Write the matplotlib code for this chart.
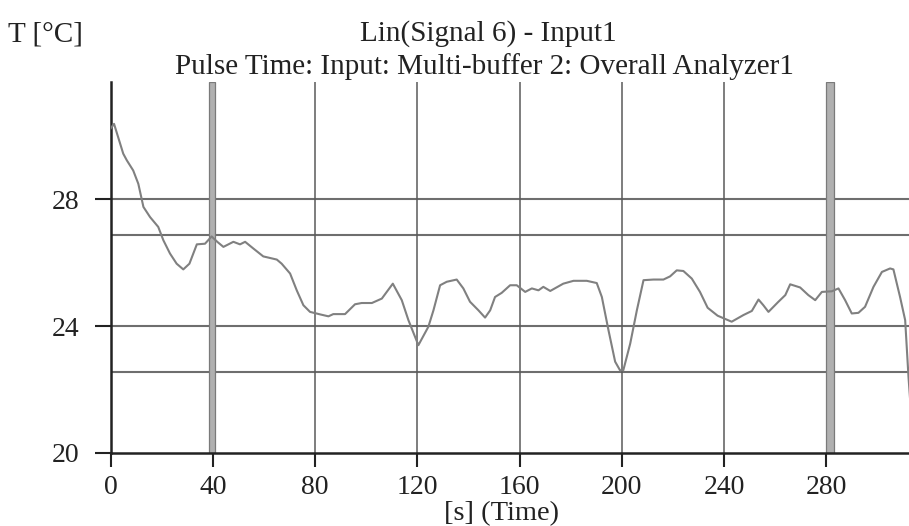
import matplotlib
matplotlib.use("Agg")
import matplotlib.pyplot as plt
import numpy as np

# data
time_s = [0, 1.3, 4.9, 6.3, 8.8, 10.8, 12.8, 15.4, 18.6, 20.6, 23.2, 25.8, 28.4,
          30.8, 33.7, 36.9, 39.5, 41.7, 44.1, 48.0, 50.6, 52.6, 55.8, 59.7, 65.0,
          66.9, 70.2, 72.8, 75.4, 78.0, 82.0, 85.2, 87.1, 91.7, 95.6, 98.2, 102.2,
          106.1, 110.4, 113.9, 116.5, 120.4, 124.3, 126.3, 128.9, 131.5, 135.4,
          138.0, 140.6, 143.9, 146.5, 148.5, 150.4, 153.0, 156.3, 158.9, 162.2,
          164.8, 167.4, 169.3, 172.0, 177.1, 181.1, 186.3, 190.2, 192.2, 194.8,
          197.4, 199.3, 200.6, 203.3, 205.9, 208.5, 212.4, 216.3, 218.9, 221.5,
          224.1, 227.4, 230.6, 233.6, 237.5, 243.0, 247.6, 250.9, 253.5, 255.4,
          257.4, 261.3, 264.0, 265.9, 269.8, 273.0, 275.7, 278.3, 282.2, 284.8,
          287.4, 290.0, 292.6, 295.2, 298.5, 301.8, 305.0, 306.3, 308.9, 310.9,
          312.2, 313.0]
temp_c = [30.24, 30.38, 29.44, 29.23, 28.91, 28.49, 27.76, 27.44, 27.13, 26.71,
          26.29, 25.97, 25.79, 25.97, 26.58, 26.60, 26.83, 26.66, 26.50, 26.66,
          26.58, 26.66, 26.45, 26.20, 26.10, 25.97, 25.66, 25.13, 24.66, 24.45,
          24.37, 24.31, 24.38, 24.38, 24.69, 24.73, 24.73, 24.87, 25.34, 24.82,
          24.19, 23.40, 23.98, 24.50, 25.29, 25.40, 25.47, 25.19, 24.77, 24.50,
          24.27, 24.50, 24.92, 25.05, 25.29, 25.29, 25.08, 25.19, 25.13, 25.24,
          25.11, 25.34, 25.43, 25.43, 25.36, 24.92, 23.87, 22.88, 22.61, 22.61,
          23.45, 24.50, 25.45, 25.47, 25.47, 25.57, 25.76, 25.74, 25.50, 25.08,
          24.58, 24.33, 24.14, 24.35, 24.48, 24.84, 24.66, 24.45, 24.77, 24.98,
          25.32, 25.22, 24.98, 24.82, 25.08, 25.10, 25.19, 24.82, 24.40, 24.42,
          24.61, 25.24, 25.71, 25.82, 25.79, 24.92, 24.19, 22.40, 21.5]

x_ticks = [0, 40, 80, 120, 160, 200, 240, 280]
y_ticks = [20, 24, 28]
h_lines = [28, 26.87, 24, 22.56]
v_lines = [80, 120, 160, 200, 240]
bands = [(38.3, 40.9), (280.1, 283.0)]

serif = ["Liberation Serif", "DejaVu Serif"]
plt.rcParams["font.family"] = serif

fig = plt.figure(figsize=(9.09, 5.26), dpi=100)
ax = fig.add_axes([0.1218, 0.1388, 0.8782, 0.7053])

for y in h_lines:
    ax.axhline(y, color="#6e6e6e", lw=1.5, zorder=1)
for x in v_lines:
    ax.axvline(x, color="#5a5a5a", lw=1.1, zorder=1)
for x0, x1 in bands:
    ax.axvspan(x0, x1, facecolor="#b0b0b0", edgecolor="#7a7a7a", lw=0.9, zorder=1)

ax.plot(time_s, temp_c, color="#808080", lw=1.5, zorder=3)

ax.set_xlim(0, 312.4)
ax.set_ylim(20, 31.7)
ax.set_xticks(x_ticks)
ax.set_yticks(y_ticks)
ax.tick_params(axis="x", direction="out", length=10, width=1.5, pad=6, labelsize=20,
               colors="#222222")
ax.tick_params(axis="y", direction="out", length=11.5, width=1.5, pad=11, labelsize=20,
               colors="#222222")
for s in ["top", "right"]:
    ax.spines[s].set_visible(False)
for s in ["left", "bottom"]:
    ax.spines[s].set_linewidth(1.8)
    ax.spines[s].set_color("#222222")

fig.text(8 / 909, 1 - 34 / 526, "T [°C]", fontsize=21, va="center", ha="left",
         color="#222222")
fig.text(488 / 909, 1 - 34 / 526, "Lin(Signal 6) - Input1", fontsize=21,
         va="center", ha="center", color="#222222")
fig.text(484 / 909, 1 - 67 / 526, "Pulse Time: Input: Multi-buffer 2: Overall Analyzer1",
         fontsize=21, va="center", ha="center", color="#222222")
fig.text(502 / 909, 1 - 514 / 526, "[s] (Time)", fontsize=20.5, va="center",
         ha="center", color="#222222")

fig.savefig("out.png", dpi=100)
